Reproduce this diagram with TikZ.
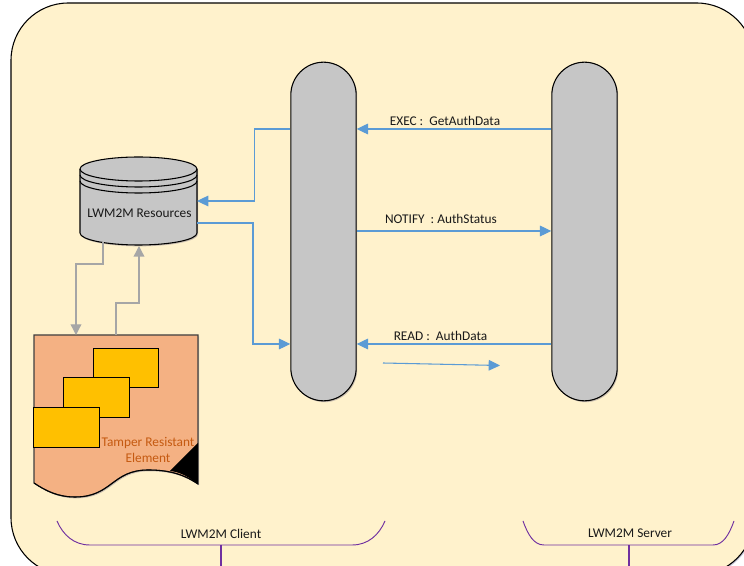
\documentclass[tikz,border=0pt]{standalone}
\usepackage{fontspec}
\setmainfont{Carlito}
\usetikzlibrary{arrows.meta,shadows,calc}
\definecolor{bgfill}{HTML}{FFF2CC}
\definecolor{pillgray}{HTML}{C6C6C6}
\definecolor{linkblue}{HTML}{5B9BD5}
\definecolor{linkgray}{HTML}{A6A6A6}
\definecolor{docfill}{HTML}{F4B183}
\definecolor{chipfill}{HTML}{FFC000}
\definecolor{doctext}{HTML}{C55A11}
\definecolor{brace}{HTML}{7030A0}
\tikzset{
  softshadow/.style={drop shadow={shadow xshift=0.8pt,shadow yshift=-1pt,opacity=.22,fill=black!70!blue}},
  pill/.style={draw=black,line width=.8pt,fill=pillgray,rectangle,rounded corners=24.6pt,minimum width=49pt,minimum height=254pt,inner sep=0pt,softshadow},
  anchorbox/.style={rectangle,inner sep=0pt,outer sep=0pt},
  chip/.style={draw=black,line width=.8pt,fill=chipfill,rectangle,inner sep=0pt,minimum width=49pt,minimum height=29.5pt},
  bluelink/.style={draw=linkblue,line width=.8pt,-{Triangle[length=8.5pt,width=8pt,fill=linkblue]}},
  graylink/.style={draw=linkgray,line width=1pt,-{Triangle[length=8pt,width=8pt,fill=linkgray]}},
  msg/.style={font=\fontsize{10}{12}\selectfont,text=black!90,inner sep=0pt},
  bracket/.style={draw=brace,line width=.7pt},
  stem/.style={draw=brace,line width=1pt},
}
\begin{document}
\begin{tikzpicture}[x=0.75pt,y=-0.75pt]
\useasboundingbox (0,0) rectangle (744,566);
\clip (0,0) rectangle (744,566);
% background
\fill[white] (0,0) rectangle (744,566);
\draw[black,line width=.8pt,fill=bgfill,rounded corners=43pt,softshadow] (11,3) rectangle (754,575);

% pills
\node[pill] (leftpill) at (323.5,231.5) {};
\node[pill] (rightpill) at (584.5,231.5) {};

% store
\node[anchorbox,minimum width=87.75pt,minimum height=66pt] (store) at (138.5,201) {};
\path[draw=black,line width=.8pt,fill=pillgray,softshadow]
  (80,169) arc[start angle=180,end angle=360,x radius=58.5,y radius=12]
  -- (197,233) arc[start angle=0,end angle=180,x radius=58.5,y radius=12] -- cycle;
\draw[black,line width=.8pt] (80,169) arc[start angle=180,end angle=0,x radius=58.5,y radius=12];
\draw[black,line width=.8pt] (80,175) arc[start angle=180,end angle=0,x radius=58.5,y radius=12];
\draw[black,line width=.8pt] (80,181) arc[start angle=180,end angle=0,x radius=58.5,y radius=12];
\node[msg] at (139.5,213) {LWM2M Resources};

% document
\node[anchorbox,minimum width=123pt,minimum height=111.75pt] (doc) at (116,409.5) {};
\path[draw=black!75,line width=.8pt,fill=docfill,softshadow]
  (34,335) -- (198,335) -- (198,484)
  .. controls (182,473) and (166,470) .. (148,470)
  .. controls (112,470) and (112,497) .. (75,497)
  .. controls (58,497) and (46,491) .. (34,483) -- cycle;
\draw[black,line width=.8pt] (34,483) .. controls (46,491) and (58,497) .. (75,497)
  .. controls (112,497) and (112,470) .. (148,470)
  .. controls (166,470) and (182,473) .. (198,484);
\fill[black] (198,443) -- (170,471) .. controls (181,472) and (190,478) .. (198,484) -- cycle;
\node[chip] (chipa) at (126,368) {};
\node[chip] (chipb) at (96.5,397.5) {};
\node[chip] (chipc) at (66.5,427.5) {};
\node[msg,text=doctext,align=center] (doclabel) at (148,450) {Tamper Resistant\\Element};

% level coordinates
\coordinate (yexec) at (0,129);
\coordinate (ynotify) at (0,231);
\coordinate (yread) at (0,344);
\coordinate (ystorein) at (0,201);
\coordinate (ystoreout) at (0,223);
\coordinate (freea) at (383,363);
\coordinate (freeb) at (500,365.5);

% blue connectors
\draw[bluelink] (rightpill.west |- yexec) -- (leftpill.east |- yexec);
\draw[bluelink] (leftpill.east |- ynotify) -- (rightpill.west |- ynotify);
\draw[bluelink] (rightpill.west |- yread) -- (leftpill.east |- yread);
\draw[bluelink] (freea) -- (freeb);
\draw[bluelink] (leftpill.west |- yexec) -- ++(-36,0) |- (store.east |- ystorein);
\draw[bluelink] (store.east |- ystoreout) -- ++(56,0) |- (leftpill.west |- yread);

% gray connectors
\coordinate (gx1) at (103,0);
\coordinate (gx2) at (76,0);
\coordinate (gx3) at (116,0);
\coordinate (gx4) at (139,0);
\draw[graylink] ($(gx1 |- store.south)+(0,-3)$) -- ++(0,22) -| (gx2 |- doc.north);
\draw[graylink] (gx3 |- doc.north) -- ++(0,-32) -| ($(gx4 |- store.south)+(0,1)$);

% messages
\node[msg] (execlabel) at (445,120.5) {EXEC :\ \ GetAuthData};
\node[msg] (notifylabel) at (441,218.5) {NOTIFY\ \ : AuthStatus};
\node[msg] (readlabel) at (440.5,336) {READ :\ \ AuthData};

% brackets
\draw[bracket] (57,521) .. controls (63,535) and (74,545) .. (90,545) -- (352,545) .. controls (368,545) and (379,535) .. (385,521);
\draw[stem] (221,545) -- (221,566);
\node[msg] (clientlabel) at (221,534) {LWM2M Client};
\draw[bracket] (523,521) .. controls (528,535) and (534,545) .. (544,545) -- (713,545) .. controls (723,545) and (729,535) .. (734,521);
\draw[stem] (629,545) -- (629,566);
\node[msg] (serverlabel) at (630,533.5) {LWM2M Server};
\end{tikzpicture}
\end{document}
